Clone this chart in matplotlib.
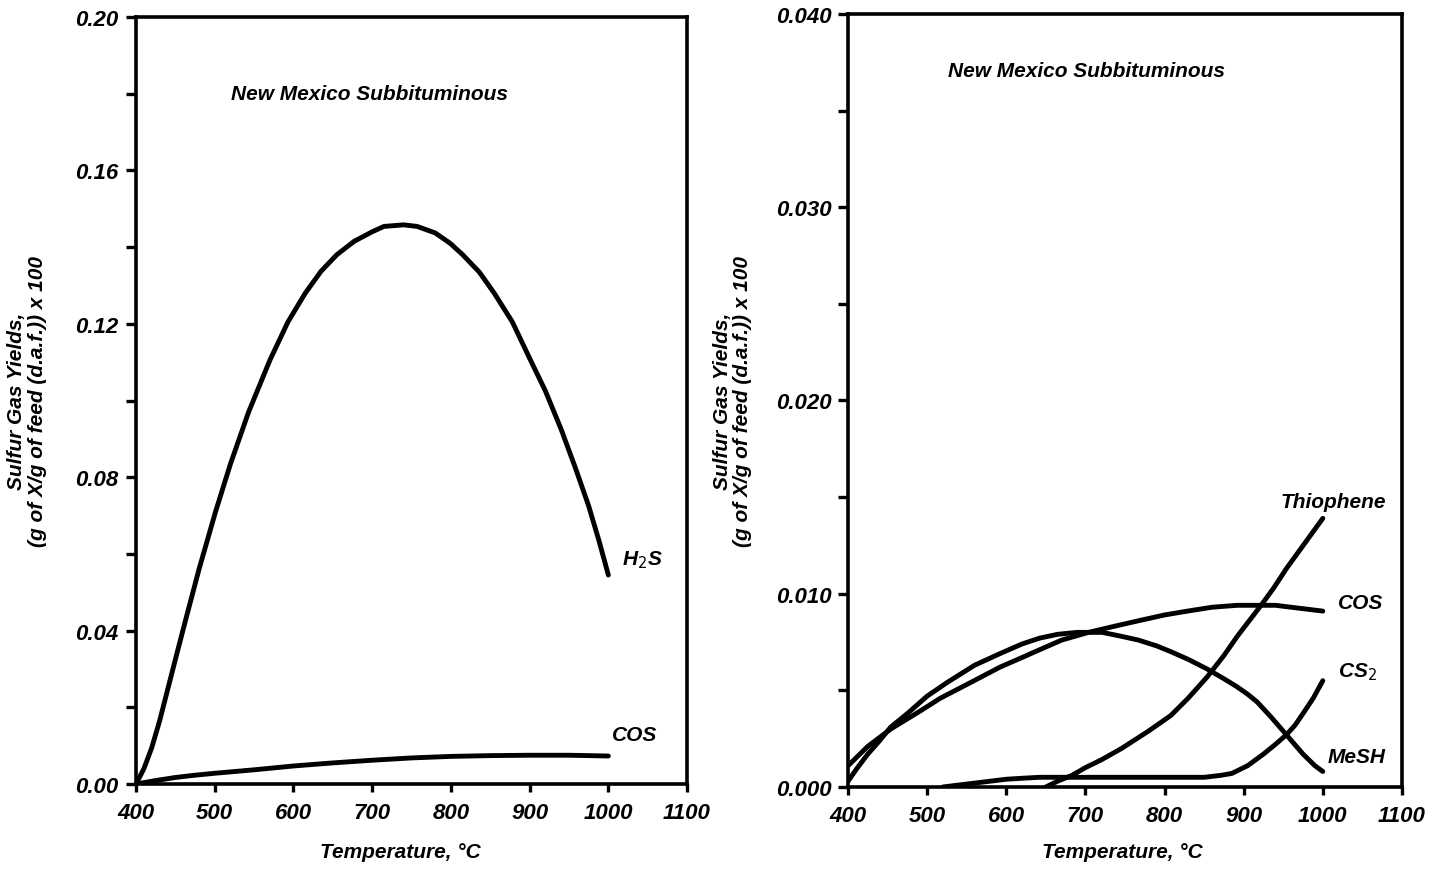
import numpy as np
import matplotlib
matplotlib.use("Agg")
import matplotlib.pyplot as plt

# left panel: H2S and COS, New Mexico subbituminous
t_h2s = [400, 410, 420, 430, 440, 450, 463, 480, 501, 520, 543, 570, 593, 615, 635, 655, 677,
         700, 715, 740, 757, 780, 799, 815, 836, 855, 878, 900, 920, 940, 958, 975, 988, 1000]
y_h2s = [0.0, 0.004, 0.0095, 0.0165, 0.0245, 0.0325, 0.0428, 0.056, 0.071, 0.0835, 0.097,
         0.1105, 0.1205, 0.128, 0.1337, 0.138, 0.1415, 0.144, 0.1454, 0.1458, 0.1454, 0.1437,
         0.141, 0.138, 0.1335, 0.128, 0.1205, 0.111, 0.1025, 0.0925, 0.0825, 0.0725, 0.0635, 0.0545]
t_cos_l = [400, 425, 450, 475, 500, 550, 600, 650, 700, 750, 800, 850, 900, 950, 1000]
y_cos_l = [0.0, 0.0009, 0.0017, 0.0023, 0.0028, 0.0037, 0.0047, 0.0055, 0.0062, 0.0068,
           0.0072, 0.0074, 0.0075, 0.0075, 0.0073]

# right panel: minor sulfur gases
t_cos_r = [400, 425, 454, 490, 517, 550, 592, 620, 642, 670, 704, 735, 767, 800, 829, 860,
           892, 917, 940, 960, 980, 1000]
y_cos_r = [0.0011, 0.0021, 0.0030, 0.0039, 0.0046, 0.0053, 0.0062, 0.0067, 0.0071, 0.0076,
           0.0080, 0.0083, 0.0086, 0.0089, 0.0091, 0.0093, 0.0094, 0.0094, 0.0094, 0.0093,
           0.0092, 0.0091]
t_mesh = [400, 412, 425, 440, 454, 475, 500, 525, 560, 592, 620, 642, 665, 690, 721, 745, 767,
          790, 808, 830, 854, 875, 891, 905, 917, 935, 954, 975, 990, 1000]
y_mesh = [0.0003, 0.0010, 0.0017, 0.0024, 0.0031, 0.0038, 0.0047, 0.0054, 0.0063, 0.0069,
          0.0074, 0.0077, 0.0079, 0.0080, 0.0080, 0.0078, 0.0076, 0.0073, 0.0070, 0.0066,
          0.0061, 0.0056, 0.0052, 0.0048, 0.0044, 0.0036, 0.0027, 0.0017, 0.0011, 0.0008]
t_thio = [650, 665, 683, 700, 720, 746, 780, 808, 830, 854, 875, 892, 907, 922, 938, 954, 977, 1000]
y_thio = [0.0, 0.0003, 0.0006, 0.0010, 0.0014, 0.0020, 0.0029, 0.0037, 0.0046, 0.0057,
          0.0068, 0.0078, 0.0086, 0.0094, 0.0103, 0.0113, 0.0126, 0.0139]
t_cs2 = [520, 540, 560, 580, 600, 620, 642, 700, 800, 850, 871, 885, 895, 905, 915, 925, 940,
         954, 965, 975, 988, 1000]
y_cs2 = [0.0, 0.0001, 0.0002, 0.0003, 0.0004, 0.00045, 0.0005, 0.0005, 0.0005, 0.0005,
         0.0006, 0.0007, 0.0009, 0.0011, 0.0014, 0.0017, 0.0022, 0.0027, 0.0032, 0.0038,
         0.0046, 0.0055]

x_ticks = [400, 500, 600, 700, 800, 900, 1000, 1100]
left_yticks = [0.0, 0.04, 0.08, 0.12, 0.16, 0.20]
left_ylabels = ["0.00", "0.04", "0.08", "0.12", "0.16", "0.20"]
right_yticks = [0.0, 0.01, 0.02, 0.03, 0.04]
right_ylabels = ["0.000", "0.010", "0.020", "0.030", "0.040"]

plt.rcParams['font.family'] = ['Liberation Sans', 'DejaVu Sans']
TXT = dict(fontstyle='italic', fontweight='bold')
LW = 3.5
FS = 15

fig = plt.figure(figsize=(14.32, 8.7), dpi=100)
ax1 = fig.add_axes([0.095, 0.0977, 0.3848, 0.8816])
ax2 = fig.add_axes([0.5922, 0.0943, 0.3868, 0.8885])


def style_axes(ax, yticks, ylabels, ymax, lbl_x, xlab_x, xlab_y, ypad):
    ax.set_xlim(400, 1100)
    ax.set_ylim(0, ymax)
    ax.set_xticks(x_ticks)
    ax.set_xticklabels([str(v) for v in x_ticks], **TXT, fontsize=16)
    ax.set_yticks(yticks)
    ax.set_yticklabels(ylabels, **TXT, fontsize=16)
    minors = [(a + b) / 2 for a, b in zip(yticks[:-1], yticks[1:])]
    ax.set_yticks(minors, minor=True)
    ax.tick_params(axis='x', which='both', direction='out', length=6, width=2.4, pad=7)
    ax.tick_params(axis='y', which='both', direction='out', length=7, width=2.4, pad=ypad)
    for s in ax.spines.values():
        s.set_linewidth(2.6)
    ax.set_xlabel("Temperature, °C", **TXT, fontsize=FS)
    ax.xaxis.set_label_coords(xlab_x, xlab_y)
    ax.set_ylabel("Sulfur Gas Yields,\n(g of X/g of feed (d.a.f.)) x 100", **TXT,
                  fontsize=FS, linespacing=1.1)
    ax.yaxis.set_label_coords(lbl_x, 0.5)


style_axes(ax1, left_yticks, left_ylabels, 0.20, -0.162, 0.479, -0.0756, 6)
style_axes(ax2, right_yticks, right_ylabels, 0.040, -0.173, 0.495, -0.071, 5)

kw = dict(color='black', lw=LW, solid_capstyle='round', solid_joinstyle='round')
ax1.plot(t_h2s, y_h2s, **kw)
ax1.plot(t_cos_l, y_cos_l, **kw)
ax1.text(697, 0.180, "New Mexico Subbituminous", ha='center', va='center', fontsize=FS, **TXT)
ax1.text(1017, 0.0587, "H$_2$S", ha='left', va='center', fontsize=FS, **TXT)
ax1.text(1005, 0.0130, "COS", ha='left', va='center', fontsize=FS, **TXT)

for t, y in [(t_cos_r, y_cos_r), (t_mesh, y_mesh), (t_thio, y_thio), (t_cs2, y_cs2)]:
    ax2.plot(t, y, **kw)
ax2.text(702, 0.0371, "New Mexico Subbituminous", ha='center', va='center', fontsize=FS, **TXT)
ax2.text(946, 0.01475, "Thiophene", ha='left', va='center', fontsize=FS, **TXT)
ax2.text(1019, 0.00957, "COS", ha='left', va='center', fontsize=FS, **TXT)
ax2.text(1019, 0.0060, "CS$_2$", ha='left', va='center', fontsize=FS, **TXT)
ax2.text(1006, 0.0016, "MeSH", ha='left', va='center', fontsize=FS, **TXT)

fig.savefig("out.png", dpi=100)
